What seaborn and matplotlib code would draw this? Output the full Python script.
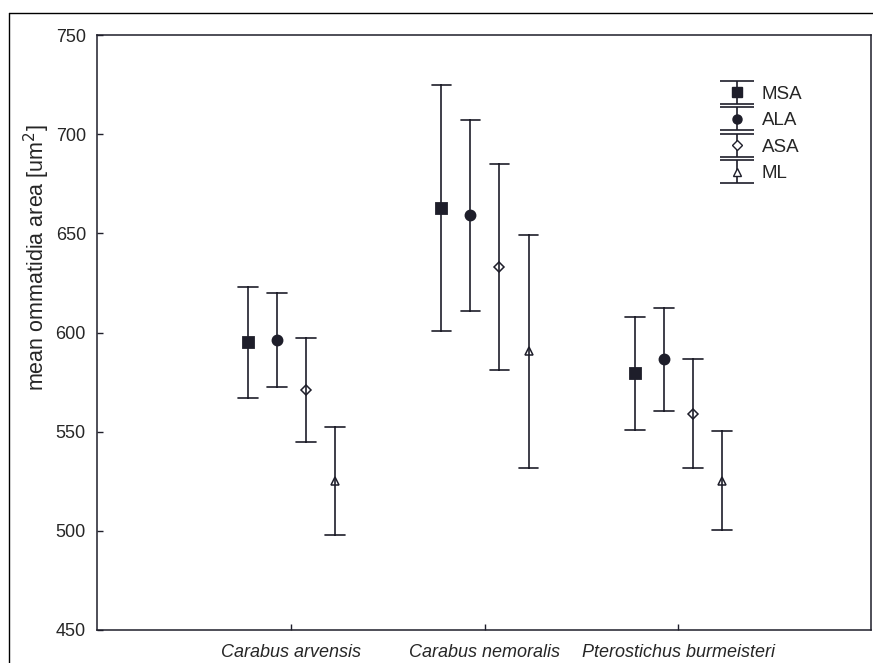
import numpy as np
import pandas as pd
import seaborn as sns
import matplotlib.pyplot as plt
from matplotlib.lines import Line2D
from matplotlib.legend_handler import HandlerErrorbar
from matplotlib.container import ErrorbarContainer

# valeurs (moyenne et demi-intervalle)
species = ['Carabus arvensis', 'Carabus nemoralis', 'Pterostichus burmeisteri']
measures = ['MSA', 'ALA', 'ASA', 'ML']

msa_mean = [595, 663, 579.5]
msa_err = [28, 62, 28.5]
ala_mean = [596, 659, 586.5]
ala_err = [23.7, 48.2, 26]
asa_mean = [571, 633, 559]
asa_err = [26.3, 51.8, 27.4]
ml_mean = [525, 590.5, 525.3]
ml_err = [27.3, 58.7, 25.1]

markers = ['s', 'o', 'D', '^']
col = '#1e1e2a'

means = {'MSA': msa_mean, 'ALA': ala_mean, 'ASA': asa_mean, 'ML': ml_mean}
errs = {'MSA': msa_err, 'ALA': ala_err, 'ASA': asa_err, 'ML': ml_err}

# table longue : deux lignes par cellule (bas / haut), la moyenne retombe sur la valeur
rows = []
for m in measures:
    for i, sp in enumerate(species):
        rows.append((sp, m, means[m][i] - errs[m][i]))
        rows.append((sp, m, means[m][i] + errs[m][i]))
df = pd.DataFrame(rows, columns=['species', 'measure', 'area'])

sns.set_style('ticks')
plt.rcParams['font.family'] = ['Liberation Sans', 'DejaVu Sans']

fig = plt.figure(figsize=(8.73, 6.63), dpi=100)
ax = fig.add_axes([97 / 873, 1 - 630 / 663, 774 / 873, 595 / 663])

sns.pointplot(data=df, x='species', y='area', hue='measure', order=species,
              hue_order=measures, palette=[col] * 4, markers=markers,
              linestyle='none', dodge=0.45, errorbar=('pi', 100), capsize=0.1,
              err_kws={'linewidth': 1.2}, markersize=6.5, legend=False, ax=ax)

# marqueurs creux pour ASA et ML
sizes = {'D': 4.8, '^': 6}
for ln in ax.lines:
    if ln.get_marker() in sizes:
        ln.set_markerfacecolor('white')
        ln.set_markeredgewidth(1.1)
        ln.set_markersize(sizes[ln.get_marker()])

ax.set_xlim(-1.005, 2.995)
ax.set_ylim(450, 750)
ax.set_yticks([450, 500, 550, 600, 650, 700, 750])
ax.set_xlabel('')
ax.set_ylabel('mean ommatidia area [um$^2$]', fontsize=15.5)
ax.yaxis.set_label_coords(-0.058, 0.625)
ax.tick_params(direction='in', length=4, width=1, color=col, labelsize=13)
ax.tick_params(axis='y', pad=8)
ax.tick_params(axis='x', pad=10)
for lab in ax.get_xticklabels():
    lab.set_fontstyle('italic')
for s in ax.spines.values():
    s.set_color(col)
    s.set_linewidth(1.1)

# legende avec des barres d'erreur
handles = []
for m, mk in zip(measures, markers):
    fc = 'white' if mk in sizes else col
    ms = sizes.get(mk, 6.5)
    h = ax.errorbar([np.nan], [np.nan], yerr=[1], fmt=mk, color=col, mfc=fc,
                    ms=ms, capsize=12, elinewidth=1.2, capthick=1.2, label=m)
    handles.append(h)
ax.legend(handles=handles, loc='upper left', bbox_to_anchor=(0.803, 0.915),
          frameon=False, fontsize=13.5, borderpad=0, borderaxespad=0,
          handletextpad=0.3, labelspacing=0.5, handlelength=2.0,
          handler_map={ErrorbarContainer: HandlerErrorbar(yerr_size=0.62)})

# cadre exterieur
fig.add_artist(Line2D([9 / 873, 1], [1 - 13 / 663] * 2, color='black', lw=1))
fig.add_artist(Line2D([9 / 873] * 2, [0, 1 - 13 / 663], color='black', lw=1))

plt.savefig('out.png', dpi=100)
